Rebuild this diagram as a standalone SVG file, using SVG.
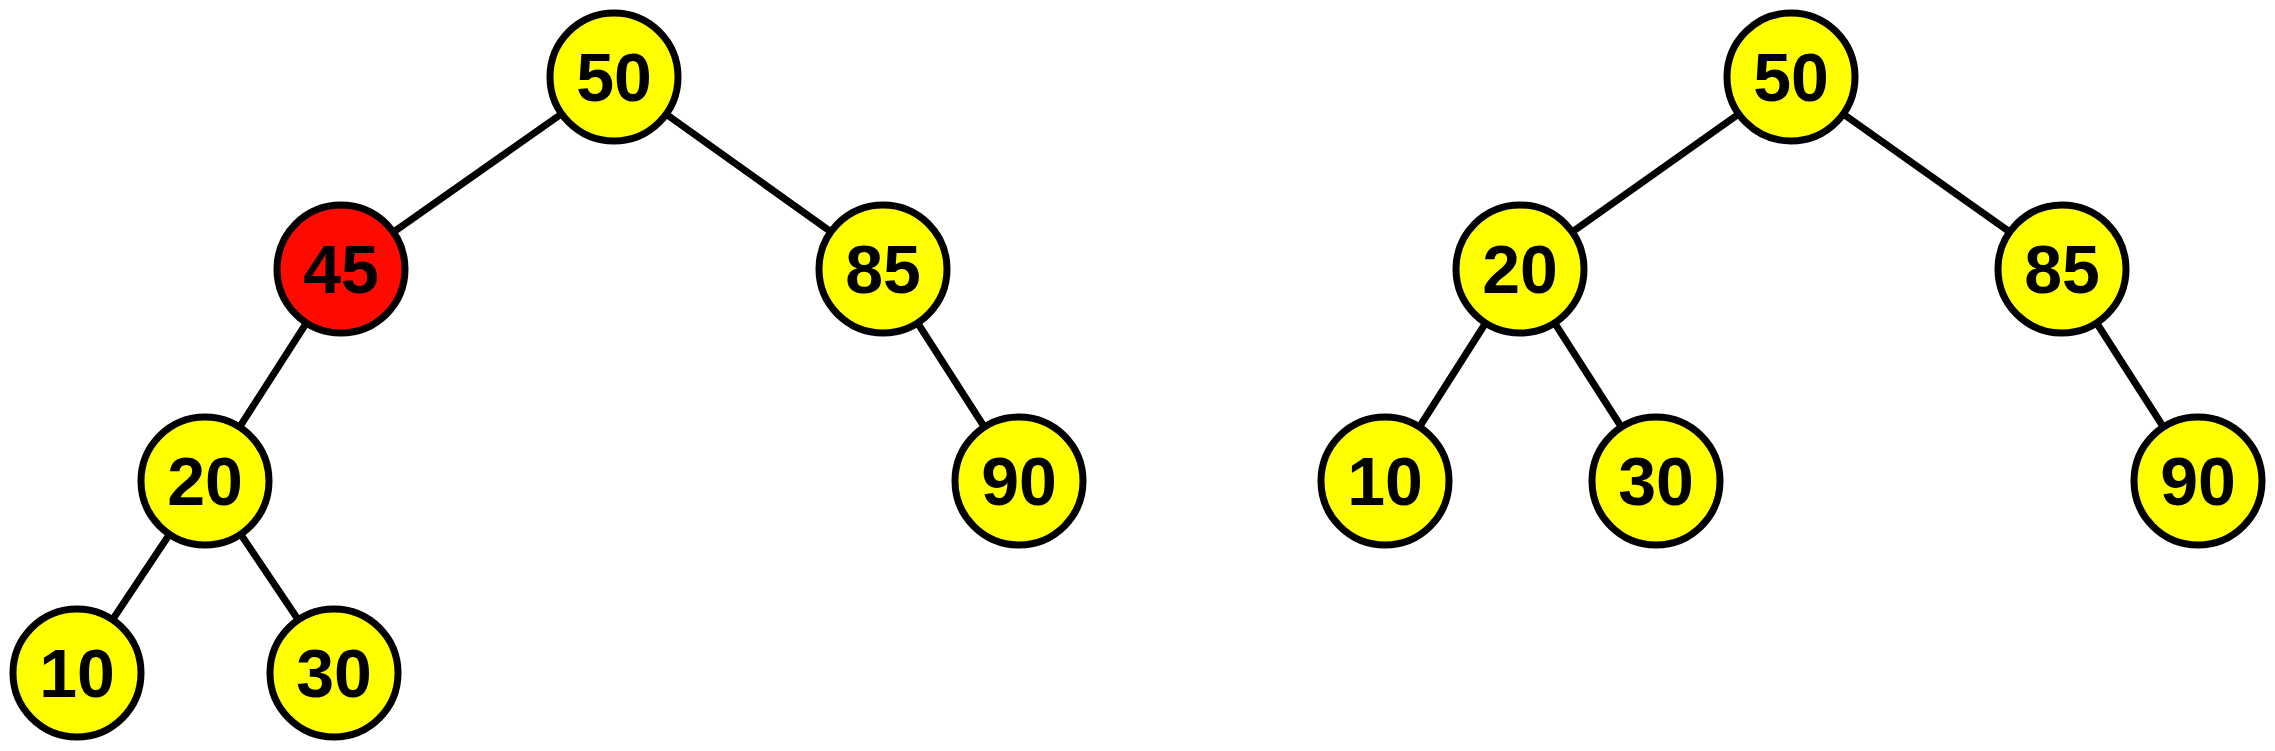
<svg xmlns="http://www.w3.org/2000/svg" width="2275" height="751" viewBox="0 0 2275 751">
<style>
.edge{stroke:#000;stroke-width:7;fill:none}
.n circle{stroke:#000;stroke-width:7;fill:#ffff00}
.n.red circle{fill:#ff0a00}
.n text{font-family:"Liberation Sans",Arial,sans-serif;font-weight:bold;font-size:68px;text-anchor:middle;fill:#000}
</style>
<rect width="2275" height="751" fill="#fff"/>
<g id="connectors">
<line class="edge" x1="614" y1="77" x2="341" y2="269"/>
<line class="edge" x1="614" y1="77" x2="883" y2="269"/>
<line class="edge" x1="341" y1="269" x2="205" y2="481"/>
<line class="edge" x1="883" y1="269" x2="1019" y2="481"/>
<line class="edge" x1="205" y1="481" x2="77" y2="673"/>
<line class="edge" x1="205" y1="481" x2="334" y2="673"/>
<line class="edge" x1="1791" y1="77" x2="1520" y2="269"/>
<line class="edge" x1="1791" y1="77" x2="2062" y2="269"/>
<line class="edge" x1="1520" y1="269" x2="1385" y2="481"/>
<line class="edge" x1="1520" y1="269" x2="1656" y2="481"/>
<line class="edge" x1="2062" y1="269" x2="2198" y2="481"/>
</g>
<g id="L50" class="n"><circle cx="614" cy="77" r="64"/><text x="614" y="101">50</text></g>
<g id="L45" class="n red"><circle cx="341" cy="269" r="64"/><text x="341" y="293">45</text></g>
<g id="L85" class="n"><circle cx="883" cy="269" r="64"/><text x="883" y="293">85</text></g>
<g id="L20" class="n"><circle cx="205" cy="481" r="64"/><text x="205" y="505">20</text></g>
<g id="L90" class="n"><circle cx="1019" cy="481" r="64"/><text x="1019" y="505">90</text></g>
<g id="L10" class="n"><circle cx="77" cy="673" r="64"/><text x="77" y="697">10</text></g>
<g id="L30" class="n"><circle cx="334" cy="673" r="64"/><text x="334" y="697">30</text></g>
<g id="R50" class="n"><circle cx="1791" cy="77" r="64"/><text x="1791" y="101">50</text></g>
<g id="R20" class="n"><circle cx="1520" cy="269" r="64"/><text x="1520" y="293">20</text></g>
<g id="R85" class="n"><circle cx="2062" cy="269" r="64"/><text x="2062" y="293">85</text></g>
<g id="R10" class="n"><circle cx="1385" cy="481" r="64"/><text x="1385" y="505">10</text></g>
<g id="R30" class="n"><circle cx="1656" cy="481" r="64"/><text x="1656" y="505">30</text></g>
<g id="R90" class="n"><circle cx="2198" cy="481" r="64"/><text x="2198" y="505">90</text></g>
</svg>
